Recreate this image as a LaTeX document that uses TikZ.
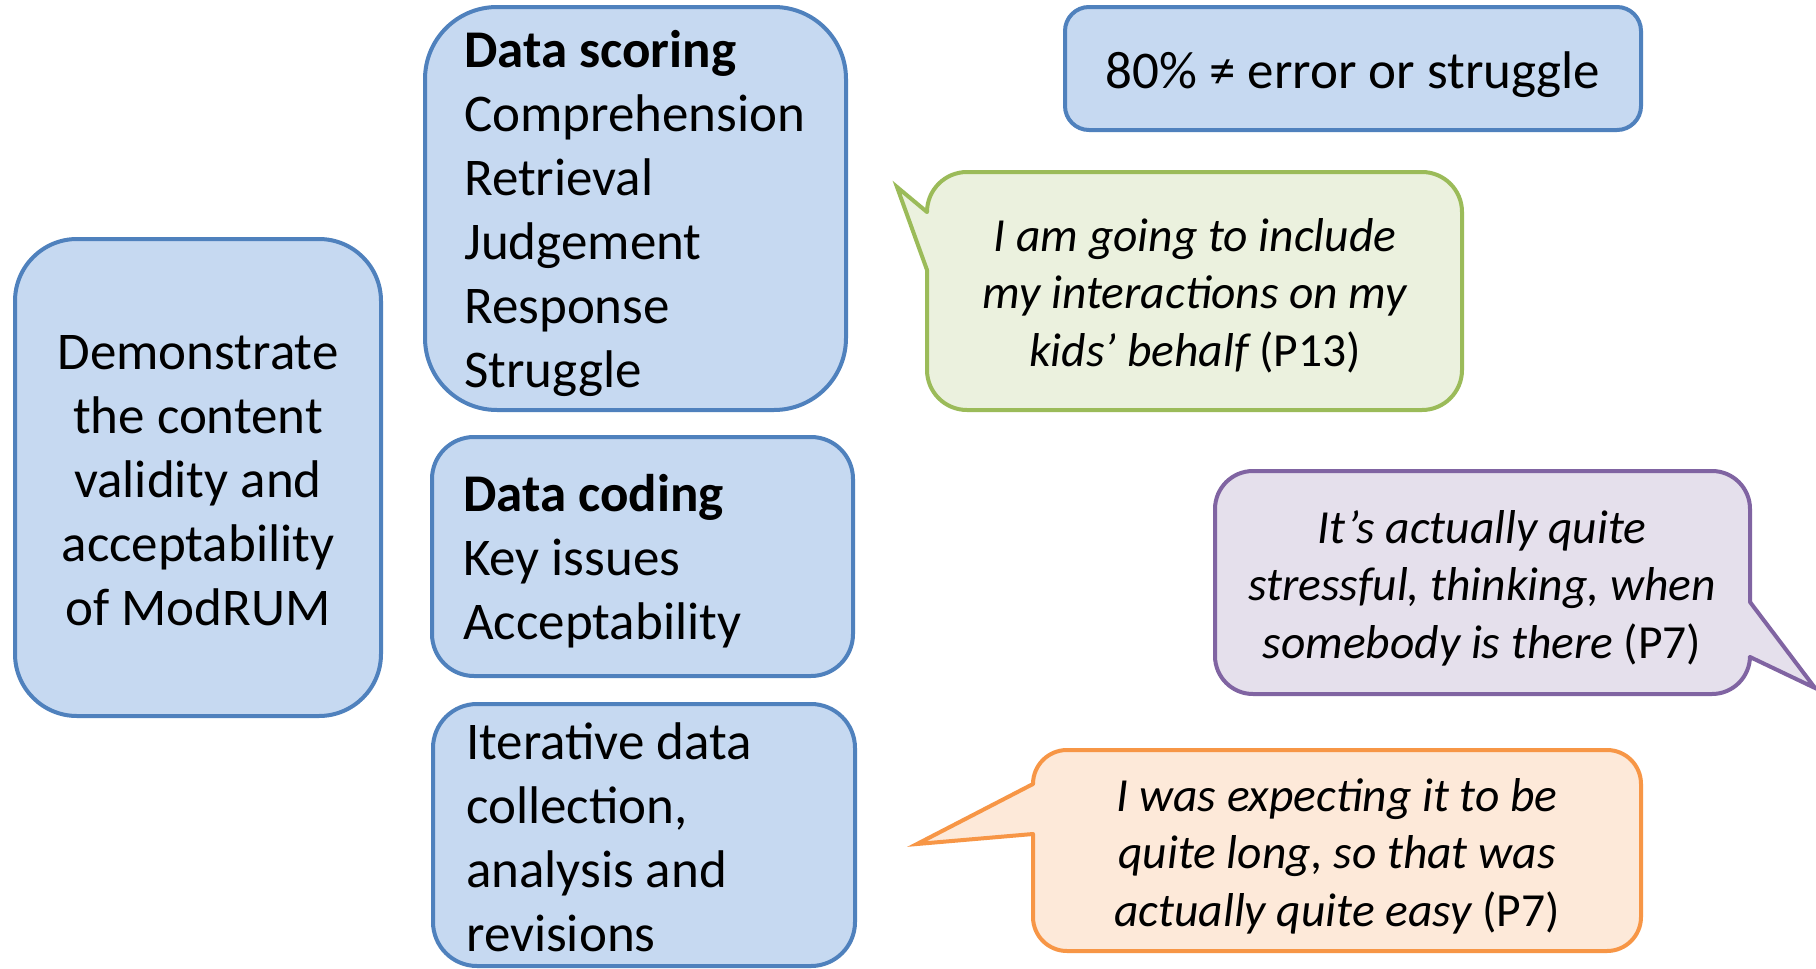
\documentclass[tikz,border=0pt]{standalone}
\usepackage{fontspec}
\setmainfont{Carlito}
\usetikzlibrary{calc}
\definecolor{bfill}{HTML}{C6D9F1}
\definecolor{bline}{HTML}{4F81BD}
\definecolor{gfill}{HTML}{EBF1DE}
\definecolor{gline}{HTML}{9BBB59}
\definecolor{pfill}{HTML}{E5E0EC}
\definecolor{pline}{HTML}{8064A2}
\definecolor{ofill}{HTML}{FDE9D9}
\definecolor{oline}{HTML}{F79646}
\newcommand{\topstrut}[1]{\rule{0pt}{#1pt}}
\tikzset{
  bluebox/.style={draw=bline, fill=bfill, line width=4pt, inner sep=0pt},
  quotebox/.style={line width=4pt, inner sep=0pt},
  maintxt/.style={inner sep=0pt, text=black, font=\fontsize{53}{64}\selectfont},
  quotetxt/.style={inner sep=0pt, text=black, align=center, font=\fontsize{47.5}{57.5}\selectfont\itshape},
  ptrline/.style={line width=4pt, line join=miter, line cap=round},
}
\begin{document}
\begin{tikzpicture}[x=1pt,y=-1pt]
\useasboundingbox (0,0) rectangle (1816,969);
\fill[white] (0,0) rectangle (1816,969);

% blue boxes
\node[bluebox, minimum width=366pt, minimum height=477pt, rounded corners=62pt] (mainbox) at (198,477.5) {};
\node[bluebox, minimum width=421pt, minimum height=403pt, rounded corners=72pt] (scorebox) at (635.5,208.5) {};
\node[bluebox, minimum width=421pt, minimum height=239pt, rounded corners=42pt] (codebox) at (642.5,556.5) {};
\node[bluebox, minimum width=422pt, minimum height=262pt, rounded corners=44pt] (iterbox) at (644,835) {};
\node[bluebox, minimum width=576pt, minimum height=123pt, rounded corners=24pt] (pctbox) at (1353,68.5) {};

% green callout
\node[quotebox, draw=gline, fill=gfill, minimum width=535pt, minimum height=238pt, rounded corners=40pt] (gbox) at (1194.5,291) {};
\coordinate (gtip) at (897,187);
\coordinate (gb1) at (927,212);
\coordinate (gb2) at (927,270);
\fill[gfill] (gb1) -- (gtip) -- (gb2) -- cycle;
\draw[gfill, line width=5pt] (gb1) -- (gb2);
\draw[ptrline, gline] (gb1) -- (gtip) -- (gb2);

% purple callout
\node[quotebox, draw=pline, fill=pfill, minimum width=535pt, minimum height=223pt, rounded corners=38pt] (pbox) at (1482.5,582.5) {};
\coordinate (ptip) at (1815,688);
\coordinate (pb1) at (1750,602);
\coordinate (pb2) at (1750,657);
\fill[pfill] (pb1) -- (ptip) -- (pb2) -- cycle;
\draw[pfill, line width=5pt] (pb1) -- (pb2);
\draw[ptrline, pline] (pb1) -- (ptip) -- (pb2);

% orange callout
\node[quotebox, draw=oline, fill=ofill, minimum width=608pt, minimum height=201pt, rounded corners=34pt] (obox) at (1337,850.5) {};
\coordinate (otip) at (917,844);
\coordinate (ob1) at (1033,784);
\coordinate (ob2) at (1033,834);
\fill[ofill] (ob1) -- (otip) -- (ob2) -- cycle;
\draw[ofill, line width=5pt] (ob1) -- (ob2);
\draw[ptrline, oline] (ob1) -- (otip) -- (ob2);

% texts
\node[maintxt, align=center, anchor=north] (maintext) at (198,319)
  {\topstrut{50}Demonstrate\\the content\\validity and\\acceptability\\of ModRUM};
\node[maintxt, align=left, anchor=north west] (scoretext) at (464,17)
  {\topstrut{50}\textbf{Data scoring}\\Comprehension\\Retrieval\\Judgement\\Response\\Struggle};
\node[maintxt, align=left, anchor=north west] (codetext) at (463,461)
  {\topstrut{50}\textbf{Data coding}\\Key issues\\Acceptability};
\node[maintxt, align=left, anchor=north west] (itertext) at (466,709)
  {\topstrut{50}Iterative data\\collection,\\analysis and\\revisions};
\node[maintxt, align=center, anchor=north] (pcttext) at (1353,38)
  {\topstrut{50}80\% ≠ error or struggle};
\node[quotetxt, anchor=north] (gtext) at (1195,206)
  {\topstrut{45}I am going to include\\my interactions on my\\kids’ behalf \upshape(P13)};
\node[quotetxt, anchor=north] (ptext) at (1482,498)
  {\topstrut{45}It’s actually quite\\stressful, thinking, when\\somebody is there \upshape(P7)};
\node[quotetxt, anchor=north] (otext) at (1337,766)
  {\topstrut{45}I was expecting it to be\\quite long, so that was\\actually quite easy \upshape(P7)};
\end{tikzpicture}
\end{document}
